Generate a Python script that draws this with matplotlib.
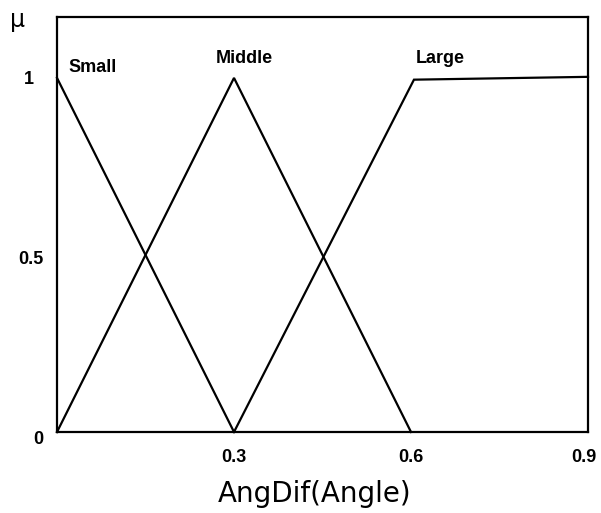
import matplotlib
matplotlib.use("Agg")
import matplotlib.pyplot as plt
from matplotlib.transforms import offset_copy

# Data
small_x = [0.0, 0.3]
small_y = [1.0, 0.0]
middle_x = [0.0, 0.3, 0.6]
middle_y = [0.0, 1.0, 0.0]
large_x = [0.3, 0.605, 0.9]
large_y = [0.0, 0.995, 1.003]
set_names = ["Small", "Middle", "Large"]
name_pos_x = [0.060, 0.317, 0.650]
name_pos_y = [1.03, 1.056, 1.056]
xticks = [0.3, 0.6, 0.9]
xtick_labels = ["0.3", "0.6", "0.9"]
yticks = [0, 0.5, 1]
ytick_labels = ["0", "0.5", "1"]

W, H = 601, 513
fig = plt.figure(figsize=(W / 100, H / 100), dpi=100)
ax = fig.add_axes([57 / W, 1 - 432 / H, (588 - 57) / W, (432 - 17) / H])
ax.set_xlim(0, 0.9)
ax.set_ylim(0, 1.172)

for xs, ys in [(small_x, small_y), (middle_x, middle_y), (large_x, large_y)]:
    ax.plot(xs, ys, color="black", lw=1.6, solid_joinstyle="miter", clip_on=False)

for s in ax.spines.values():
    s.set_linewidth(1.6)

for name, x, y in zip(set_names, name_pos_x, name_pos_y):
    ax.text(x, y, name, ha="center", va="center", fontsize=13,
            fontweight="bold", family="Liberation Sans")

tick_font = dict(fontsize=13, fontweight="bold", family="Liberation Sans")
ax.set_xticks(xticks)
ax.set_xticklabels(xtick_labels, **tick_font)
ax.set_yticks(yticks)
ax.set_yticklabels(ytick_labels, **tick_font)
ax.tick_params(axis="x", length=0, pad=12)
ax.tick_params(axis="y", length=0, pad=10)

# small per-label pixel nudges to match the reference placement
x_nudge = {"0.9": (-4, 0)}
y_nudge = {"0": (0, -8), "0.5": (0, -5), "1": (-9, -2)}
for lab in ax.get_xticklabels():
    dx, dy = x_nudge.get(lab.get_text(), (0, 0))
    lab.set_transform(offset_copy(lab.get_transform(), fig=fig, x=dx, y=dy, units="dots"))
for lab in ax.get_yticklabels():
    lab.set_va("center")
    dx, dy = y_nudge.get(lab.get_text(), (0, 0))
    lab.set_transform(offset_copy(lab.get_transform(), fig=fig, x=dx, y=dy, units="dots"))

fig.text(315 / W, 1 - 494 / H, "AngDif(Angle)", ha="center", va="center",
         fontsize=20, family="DejaVu Sans")
fig.text(18 / W, 1 - 20 / H, "μ", ha="center", va="center",
         fontsize=17, family="DejaVu Sans")

fig.savefig("out.png", dpi=100)
